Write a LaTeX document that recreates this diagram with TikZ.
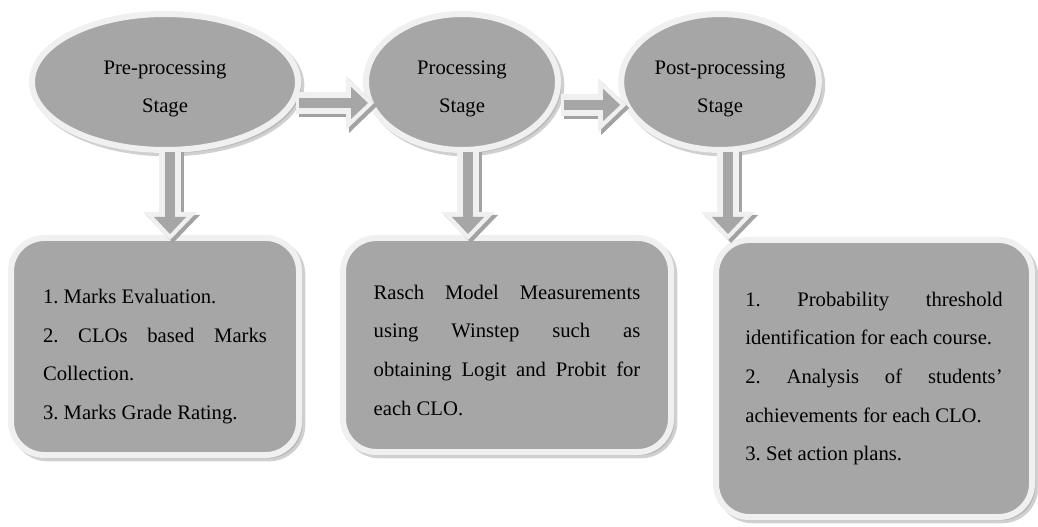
\documentclass[tikz,border=0pt]{standalone}
\usepackage{fontspec}
\setmainfont{Liberation Serif}
\usetikzlibrary{shapes.geometric,shadows,arrows.meta,calc}
\frenchspacing

\definecolor{stagefill}{HTML}{A6A6A6}
\definecolor{stagerim}{HTML}{F0F0F0}
\definecolor{stageshade}{HTML}{A2A2A2}

\tikzset{
  stage/.style={ellipse, fill=stagefill, draw=stagerim, line width=4.5pt,
    minimum height=102pt, align=center, font=\fontsize{15.5}{28.5}\selectfont,
    text height=46pt, text depth=0pt,
    drop shadow={shadow xshift=2.5pt, shadow yshift=-2.5pt, fill=stageshade, draw=stageshade}},
  task/.style={rectangle, rounded corners=25pt, fill=stagefill, draw=stagerim, line width=4.5pt,
    align=justify, inner sep=0pt, font=\fontsize{15.5}{29}\selectfont,
    drop shadow={shadow xshift=2.5pt, shadow yshift=-2.5pt, fill=stageshade, draw=stageshade}},
  arrowshade/.style={draw=stageshade, line width=16.5pt,
    -{Triangle[length=21pt, width=40.5pt, line width=0pt]},
    transform canvas={shift={(2.25pt,-2.25pt)}}},
  arrowrim/.style={draw=stagerim, line width=16.5pt,
    -{Triangle[length=21pt, width=40.5pt, line width=0pt]}},
  arrowcore/.style={draw=stagefill, line width=7.5pt, shorten >=4.5pt, shorten <=2pt,
    -{Triangle[length=12.75pt, width=24pt, line width=0pt]}}
}

% block arrow in three layers
\newcommand{\flowarrow}[2]{%
  \draw[arrowshade] #1 -- #2;
  \draw[arrowrim] #1 -- #2;
  \draw[arrowcore] #1 -- #2;
}

\begin{document}
\begin{tikzpicture}[x=0.75pt, y=-0.75pt]
  \useasboundingbox (0,0) rectangle (1038,527);

  % stages
  \node[stage, minimum width=199.5pt] (pre)  at (165,82) {Pre-processing\\Stage};
  \node[stage, minimum width=144pt]   (proc) at (462,82) {Processing\\Stage};
  \node[stage, minimum width=142.5pt] (post) at (720,82) {Post-processing\\Stage};

  % tasks
  \node[task, minimum width=216pt, minimum height=162.75pt, text width=168pt] (pretask) at (155,346.5)
    {\rule{0pt}{26pt}1. Marks Evaluation.\\
     2. CLOs based Marks\linebreak Collection.\\
     3. Marks Grade Rating.};
  \node[task, minimum width=246pt, minimum height=160.5pt, text width=200pt] (proctask) at (507,345)
    {\rule{0pt}{18.5pt}Rasch Model Measurements\linebreak using Winstep such as\linebreak obtaining Logit and Probit for\linebreak each CLO.};
  \node[task, minimum width=237pt, minimum height=207.75pt, text width=193pt] (posttask) at (874,378.5)
    {1. Probability threshold\linebreak identification for each course.\\
     2. Analysis of students’\linebreak achievements for each CLO.\\
     3. Set action plans.};

  % arrows between stages
  \flowarrow{($(pre.east)+(-5,21)$)}{($(proc.west)+(11,21)$)}
  \flowarrow{($(proc.east)+(0,23)$)}{($(post.west)+(8,23)$)}

  % arrows down to tasks
  \flowarrow{($(pre.south)+(5,-4)$)}{($(pre.south |- pretask.north)+(5,5)$)}
  \flowarrow{($(proc.south)+(6,-4)$)}{($(proc.south |- proctask.north)+(6,5)$)}
  \flowarrow{($(post.south)+(8,-4)$)}{($(post.south |- posttask.north)+(8,3)$)}
\end{tikzpicture}
\end{document}
